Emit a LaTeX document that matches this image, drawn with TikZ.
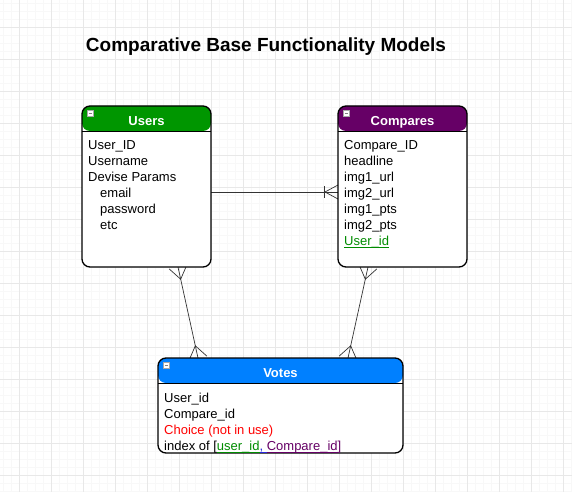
\documentclass[tikz,border=0pt]{standalone}
\usepackage{fontspec}
\setmainfont{Liberation Sans}
\usetikzlibrary{calc,backgrounds}
\definecolor{gridmajor}{rgb}{.91,.91,.91}
\definecolor{gridminor}{rgb}{.972,.972,.972}
\definecolor{usergreen}{RGB}{0,150,0}
\definecolor{comparepurple}{RGB}{102,0,102}
\definecolor{voteblue}{RGB}{0,128,255}
\definecolor{linkgreen}{RGB}{0,140,0}
\definecolor{linkblue}{RGB}{40,40,220}
\newcommand{\linkline}[1]{\setbox0\hbox{#1}\rlap{\rule[-2pt]{\wd0}{0.6pt}}\box0}

\begin{document}
\begin{tikzpicture}[x=1pt,y=-1pt,
  table/.style={draw=black,line width=1.3pt,fill=white,rounded corners=8pt,inner sep=0pt,outer sep=0pt,
    path picture={\fill[#1] (path picture bounding box.north west) rectangle ([yshift=-25pt]path picture bounding box.north east);}},
  head/.style={anchor=base,text=white,font=\bfseries\fontsize{13}{16}\selectfont},
  rows/.style={anchor=north west,inner sep=0pt,align=left,font=\fontsize{13}{16}\selectfont},
  rel/.style={draw=black!80,line width=0.7pt}]

\useasboundingbox (0,0) rectangle (572,492);

\node[table=usergreen,minimum width=129pt,minimum height=161pt] (users) at (146.5,186.5) {};
\node[table=comparepurple,minimum width=129pt,minimum height=161pt] (compares) at (402.5,186.5) {};
\node[table=voteblue,minimum width=245pt,minimum height=95pt] (votes) at (280.5,405.5) {};

\foreach \t in {users,compares,votes}{
  \draw[line width=1pt] ([yshift=-25pt]\t.north west) -- ([yshift=-25pt]\t.north east);
  \filldraw[fill=white,draw=gray!70,line width=0.4pt] ($(\t.north west)+(5,4)$) rectangle +(6,6);
  \draw[gray,line width=0.8pt] ($(\t.north west)+(6.5,7)$) -- +(3,0);
}

\node[font=\bfseries\fontsize{19}{22}\selectfont,anchor=base] (title) at (266,52) {Comparative Base Functionality Models};

\node[head] (usershead) at ($(users.north)+(0,19)$) {Users};
\node[head] (compareshead) at ($(compares.north)+(0,19)$) {Compares};
\node[head] (voteshead) at ($(votes.north)+(0,19)$) {Votes};

\node[rows] (userrows) at ($(users.north west)+(6,34)$) {User\_ID\\Username\\Devise Params\\\hspace*{12pt}email\\\hspace*{12pt}password\\\hspace*{12pt}etc};
\node[rows] (comparerows) at ($(compares.north west)+(6,34)$) {Compare\_ID\\headline\\img1\_url\\img2\_url\\img1\_pts\\img2\_pts\\\textcolor{linkgreen}{\linkline{User\_id}}};
\node[rows] (voterows) at ($(votes.north west)+(6,34.5)$) {User\_id\\Compare\_id\\\textcolor{red}{Choice (not in use)}\\index of [\textcolor{linkgreen}{\linkline{user\_id}}\textcolor{linkblue}{\linkline{,\ }}\textcolor{comparepurple}{\linkline{Compare\_id}]}};

\coordinate (uc) at ($(users.east)+(0,5.5)$);
\coordinate (cu) at ($(compares.west)+(0,5.5)$);
\coordinate (uv) at ($(users.south)+(31.5,0)$);
\coordinate (vu) at ($(votes.north)+(-82.5,0)$);
\coordinate (cv) at ($(compares.south)+(-34.5,0)$);
\coordinate (vc) at ($(votes.north)+(67.5,0)$);

\begin{pgfonlayer}{background}
\fill[white] (0,0) rectangle (572,492);
\draw[gridminor,shift={(3,3)},step=8pt] (-3,489) grid (569,-3);
\draw[gridmajor,shift={(19,27)},step=32pt] (-19,465) grid (553,-27);

\draw[rel] (uc) -- (cu);
\draw[rel] ($(cu)+(-14,-6)$) -- ($(cu)+(-14,6)$);
\draw[rel] ($(cu)+(0,-7)$) -- ($(cu)+(-13,0)$) -- ($(cu)+(0,7)$);

\draw[rel] (uv) -- (vu);
\coordinate (uvc) at ($(uv)!12.5pt!(vu)$);
\coordinate (vuc) at ($(vu)!12.5pt!(uv)$);
\draw[rel] ($(uv)!9pt!90:(uvc)$) -- (uvc) -- ($(uv)!9pt!-90:(uvc)$);
\draw[rel] ($(vu)!9pt!90:(vuc)$) -- (vuc) -- ($(vu)!9pt!-90:(vuc)$);

\draw[rel] (cv) -- (vc);
\coordinate (cvc) at ($(cv)!12.5pt!(vc)$);
\coordinate (vcc) at ($(vc)!12.5pt!(cv)$);
\draw[rel] ($(cv)!9pt!90:(cvc)$) -- (cvc) -- ($(cv)!9pt!-90:(cvc)$);
\draw[rel] ($(vc)!9pt!90:(vcc)$) -- (vcc) -- ($(vc)!9pt!-90:(vcc)$);
\end{pgfonlayer}
\end{tikzpicture}
\end{document}
